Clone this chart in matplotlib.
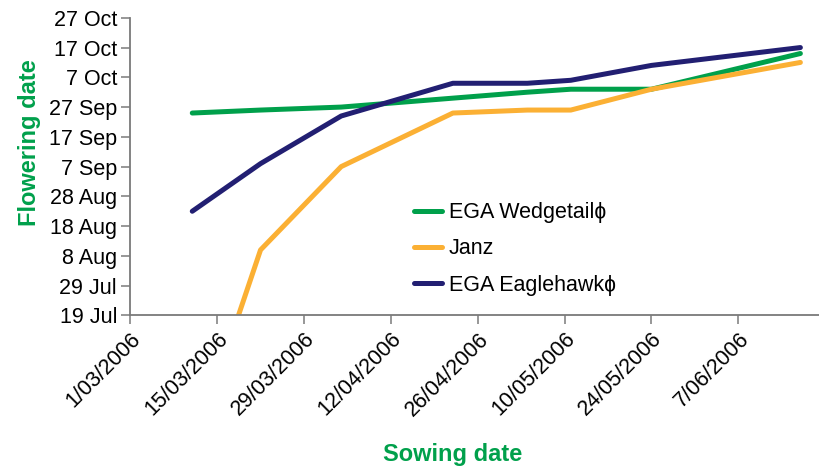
import matplotlib
matplotlib.use("Agg")
import matplotlib.pyplot as plt
import pandas as pd

# sowing dates (x) and flowering dates (y)
sowing = ['2006-03-11', '2006-03-22', '2006-04-04', '2006-04-22',
          '2006-05-04', '2006-05-11', '2006-05-24', '2006-06-17']
wedgetail = ['2006-09-25', '2006-09-26', '2006-09-27', '2006-09-30',
             '2006-10-02', '2006-10-03', '2006-10-03', '2006-10-15']
janz = ['2006-06-03', '2006-08-10', '2006-09-07', '2006-09-25',
        '2006-09-26', '2006-09-26', '2006-10-03', '2006-10-12']
eaglehawk = ['2006-08-23', '2006-09-08', '2006-09-24', '2006-10-05',
             '2006-10-05', '2006-10-06', '2006-10-11', '2006-10-17']

x_ticks = pd.date_range('2006-03-01', periods=8, freq='14D')
y_ticks = pd.date_range('2006-07-19', periods=11, freq='10D')

series = [('EGA Wedgetail\u0278', wedgetail, '#00A04B'),
          ('Janz', janz, '#FBB034'),
          ('EGA Eaglehawk\u0278', eaglehawk, '#221F72')]

plt.rcParams['font.family'] = ['Liberation Sans', 'DejaVu Sans']

fig = plt.figure(figsize=(8.19, 4.68), dpi=100)
ax = fig.add_axes([0.159, 0.326, 0.841, 0.636])

xs = pd.to_datetime(sowing)
for name, vals, col in series:
    ax.plot(xs, pd.to_datetime(vals), color=col, lw=3.6,
            solid_capstyle='round', solid_joinstyle='round', label=name)

ax.set_xlim(pd.Timestamp('2006-03-01'), pd.Timestamp('2006-03-01') + pd.Timedelta(days=111))
ax.set_ylim(y_ticks[0], y_ticks[-1])

ax.set_xticks(x_ticks)
ax.set_xticklabels([f'{d.day}/{d.month:02d}/{d.year}' for d in x_ticks],
                   rotation=45, ha='right', va='top', rotation_mode='anchor',
                   fontsize=15.5)
ax.set_yticks(y_ticks)
ax.set_yticklabels([f'{d.day} {d.strftime("%b")}' for d in y_ticks], fontsize=15.5)

for s in ['top', 'right']:
    ax.spines[s].set_visible(False)
for s in ['left', 'bottom']:
    ax.spines[s].set_color('#7a7a7a')
    ax.spines[s].set_linewidth(1.3)
ax.tick_params(axis='both', direction='out', length=6.5, width=1.1, color='#7a7a7a')
ax.tick_params(axis='y', pad=3)
ax.tick_params(axis='x', pad=3)

fig.text(30 / 819, 1 - 143 / 468, 'Flowering date', color='#00A04B', fontsize=17,
         fontweight='bold', rotation=90, ha='center', va='center')
fig.text(453 / 819, 1 - 455 / 468, 'Sowing date', color='#00A04B', fontsize=17,
         fontweight='bold', ha='center', va='center')

leg = ax.legend(loc='upper left', bbox_to_anchor=(395 / 819, 1 - 183 / 468),
                bbox_transform=fig.transFigure, frameon=False, fontsize=15.5,
                handlelength=1.3, handletextpad=0.3, labelspacing=0.7)

fig.savefig('out.png', dpi=100)
